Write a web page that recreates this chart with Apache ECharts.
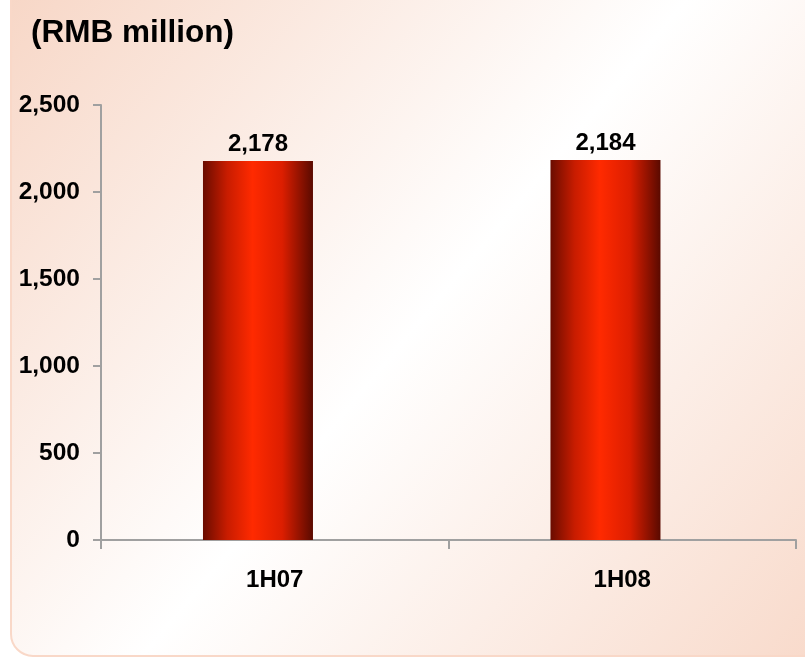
<!DOCTYPE html>
<html>
<head>
<meta charset="utf-8">
<script src="https://cdn.jsdelivr.net/npm/echarts@6/dist/echarts.min.js"></script>
<style>
html,body{margin:0;padding:0;background:#fff;}
#c{width:805px;height:659px;}
</style>
</head>
<body>
<div id="c"></div>
<script>
var titleText = '(RMB million)';
var categories = ['1H07', '1H08'];
var values = [2178, 2184];
var yTicks = [0, 500, 1000, 1500, 2000, 2500];

var chart = echarts.init(document.getElementById('c'), null, {renderer: 'canvas'});
var barGrad = new echarts.graphic.LinearGradient(0, 0, 1, 0, [
  {offset: 0, color: '#6a0c00'},
  {offset: 0.22, color: '#c81c00'},
  {offset: 0.45, color: '#ff2a00'},
  {offset: 0.72, color: '#dc1e00'},
  {offset: 1, color: '#5a0a00'}
]);
var option = {
  animation: false,
  graphic: [{
    type: 'rect',
    z: -10,
    silent: true,
    shape: {x: 11, y: -40, width: 840, height: 696, r: 22},
    style: {
      fill: new echarts.graphic.LinearGradient(0, 0, 1, 1, [
        {offset: 0, color: '#f7d5c4'},
        {offset: 0.5, color: '#ffffff'},
        {offset: 1, color: '#f8d8c8'}
      ]),
      stroke: '#f9d8c8',
      lineWidth: 2
    }
  }, {
    type: 'text',
    left: 31,
    top: 17,
    style: {
      text: titleText,
      font: 'bold 31.5px "Liberation Sans", Arial, sans-serif',
      fill: '#000'
    }
  }],
  grid: {left: 101, right: 9, top: 105, bottom: 119},
  xAxis: {
    type: 'category',
    data: categories,
    axisLine: {lineStyle: {color: '#a0a0a0', width: 2}},
    axisTick: {show: true, length: 9, lineStyle: {color: '#a0a0a0', width: 2}},
    axisLabel: {
      margin: 28,
      color: '#000',
      fontSize: 24,
      fontWeight: 'bold',
      fontFamily: '"Liberation Sans", Arial, sans-serif'
    }
  },
  yAxis: {
    type: 'value',
    min: 0,
    max: 2500,
    interval: 500,
    splitLine: {show: false},
    axisLine: {show: true, lineStyle: {color: '#a0a0a0', width: 2}},
    axisTick: {show: true, length: 8, lineStyle: {color: '#a0a0a0', width: 2}},
    axisLabel: {
      margin: 21,
      color: '#000',
      fontSize: 24.5,
      fontWeight: 'bold',
      fontFamily: '"Liberation Sans", Arial, sans-serif',
      formatter: function (v) { return yTicks.indexOf(v) >= 0 ? v.toLocaleString('en-US') : ''; }
    }
  },
  series: [{
    type: 'bar',
    data: values,
    barWidth: 110,
    barGap: '-69.5%',
    itemStyle: {color: barGrad},
    label: {
      show: true,
      position: 'top',
      distance: 5,
      color: '#000',
      fontSize: 24,
      fontWeight: 'bold',
      fontFamily: '"Liberation Sans", Arial, sans-serif',
      formatter: function (p) { return p.value.toLocaleString('en-US'); }
    }
  }, {
    type: 'bar',
    data: ['-', '-'],
    barWidth: 110
  }]
};
chart.setOption(option);
</script>
</body>
</html>
